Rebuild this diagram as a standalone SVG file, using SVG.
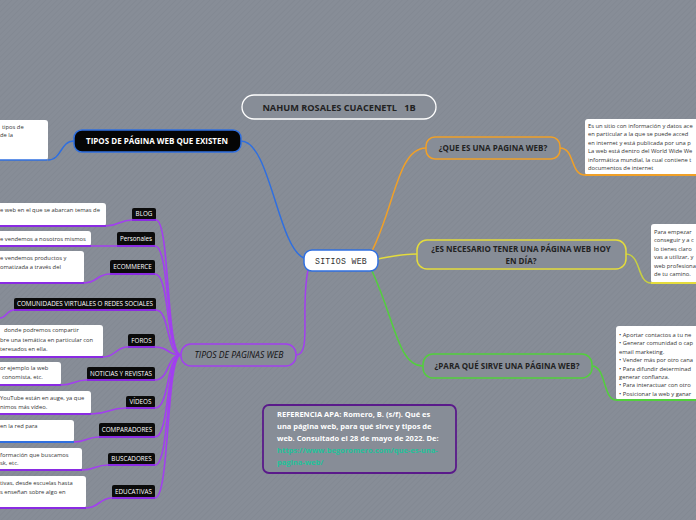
<svg xmlns="http://www.w3.org/2000/svg" width="696" height="520" viewBox="0 0 696 520">
<defs>
<pattern id="hatch" width="4" height="4" patternUnits="userSpaceOnUse" patternTransform="rotate(45)">
<rect width="4" height="4" fill="#878d97"/>
<line x1="0" y1="0" x2="0" y2="4" stroke="#7f858f" stroke-width="1"/>
</pattern>
<style>
.t{font-family:"Open Sans","Noto Sans",sans-serif}
.lbl{font-family:"Open Sans","Noto Sans",sans-serif;font-size:6.3px;fill:#fff}
.note{font-family:"Open Sans","Noto Sans",sans-serif;font-size:5.8px;fill:#333}
.blk{fill:#0b0b0b;rx:2}
.wb{fill:#fff}
.pu{stroke:#a23ff0;stroke-width:1.6;fill:none}
.puB{stroke:#8a2be2;stroke-width:2;fill:none}
.head{font-family:"Open Sans","Noto Sans",sans-serif;font-size:8px;font-weight:bold;fill:#222}
</style>
</defs>
<rect width="696" height="520" fill="url(#hatch)"/>

<g id="connectors" fill="none" stroke-linecap="round">
<path d="M241,141 C270,141 278,248 304,258" stroke="#2f6fe0" stroke-width="1.5"/>
<path d="M74,141 C60,141 62,160 48,160" stroke="#2f6fe0" stroke-width="1.5"/>
<path d="M308,270 C300,310 312,355 296,355" stroke="#a23ff0" stroke-width="1.5"/>
<path d="M372,251 C395,205 398,148 426,148" stroke="#f0a028" stroke-width="1.5"/>
<path d="M560,148 C575,148 570,175 585,175" stroke="#f0a028" stroke-width="1.5"/>
<path d="M378,259 C395,256 400,254 417,254" stroke="#e4dc3c" stroke-width="1.5"/>
<path d="M626,254 C641,254 637,283 651,283" stroke="#c8d040" stroke-width="1.5"/>
<path d="M372,271 C395,320 398,366 423,366" stroke="#52d03c" stroke-width="1.5"/>
<path d="M592,366 C606,366 603,400 616,400" stroke="#52d03c" stroke-width="1.5"/>
<g class="pu">
<path d="M181,355 C166,355 170,220 156,220"/>
<path d="M181,355 C166,355 170,246 155,246"/>
<path d="M181,355 C166,355 170,274 155,274"/>
<path d="M181,355 C166,355 170,310 156,310"/>
<path d="M181,355 C166,355 170,347 155,347"/>
<path d="M181,355 C166,355 170,380 155,380"/>
<path d="M181,355 C166,355 170,408 155,408"/>
<path d="M181,355 C166,355 170,437 155,437"/>
<path d="M181,355 C166,355 170,465 155,465"/>
<path d="M181,355 C166,355 170,498 155,498"/>
<path d="M132,220 C120,220 118,226 106,226"/>
<path d="M117,246 C104,246 104,246 91,246"/>
<path d="M110,274 C97,274 97,283 84,283"/>
<path d="M14,310 C7,310 6,318 0,318"/>
<path d="M128,347 C115,347 116,357 103,357"/>
<path d="M87,380 C74,380 74,385 61,385"/>
<path d="M126,408 C108,408 109,414 91,414"/>
<path d="M99,437 C87,437 86,442 74,442"/>
<path d="M108,465 C95,465 95,470 82,470"/>
<path d="M112,498 C99,498 99,508 86,508"/>
</g>
</g>

<g id="title">
<rect x="242" y="95" width="194" height="24" rx="12" fill="#878d97" stroke="#fff" stroke-width="1.3"/>
<text x="339" y="110.5" text-anchor="middle" class="t" font-size="9.2" font-weight="bold" fill="#222" xml:space="preserve">NAHUM ROSALES CUACENETL   1B</text>
</g>

<g id="center">
<rect x="304" y="250" width="74" height="21" rx="8" fill="#fff" stroke="#2f6fe0" stroke-width="1.5"/>
<text x="341" y="264" text-anchor="middle" font-family="Liberation Mono,DejaVu Sans Mono,monospace" font-size="8.2" letter-spacing="0.3" fill="#333">SITIOS WEB</text>
</g>

<g id="tipos-existen">
<rect x="74" y="130" width="167" height="22" rx="8" fill="#050505" stroke="#2f6fe0" stroke-width="1.5"/>
<text x="157" y="144" text-anchor="middle" class="t" font-size="8" font-weight="bold" fill="#fff">TIPOS DE PÁGINA WEB QUE EXISTEN</text>
</g>
<g id="tipos-existen-note">
<rect x="-5" y="120" width="53" height="40" rx="3" class="wb"/>
<line x1="-5" y1="160" x2="47" y2="160" stroke="#2f6fe0" stroke-width="1.5"/>
<text class="note" x="2" y="129">tipos de</text>
<text class="note" x="0" y="137">de la</text>
</g>

<g id="que-es">
<rect x="426" y="137" width="134" height="22" rx="9" fill="#878d97" stroke="#f0a028" stroke-width="1.5"/>
<text x="493" y="151" text-anchor="middle" class="head">¿QUE ES UNA PAGINA WEB?</text>
</g>
<g id="que-es-note">
<rect x="585" y="119" width="120" height="56" rx="3" class="wb"/>
<line x1="585" y1="175" x2="696" y2="175" stroke="#f0a028" stroke-width="1.8"/>
<text class="note"><tspan x="588" y="128">Es un sitio con información y datos ace</tspan><tspan x="588" y="136.4">en particular a la que se puede acced</tspan><tspan x="588" y="144.8">en internet y está publicada por una p</tspan><tspan x="588" y="153.2">La web está dentro del World Wide We</tspan><tspan x="588" y="161.6">informática mundial, la cual contiene t</tspan><tspan x="588" y="170">documentos de internet</tspan></text>
</g>

<g id="necesario">
<rect x="417" y="240" width="209" height="29" rx="10" fill="#878d97" stroke="#e4dc3c" stroke-width="1.5"/>
<text text-anchor="middle" class="head" font-size="7.5"><tspan x="521" y="252">¿ES NECESARIO TENER UNA PÁGINA WEB HOY</tspan><tspan x="521" y="263.5">EN DÍA?</tspan></text>
</g>
<g id="necesario-note">
<rect x="651" y="224" width="60" height="59" rx="3" class="wb"/>
<line x1="651" y1="283" x2="696" y2="283" stroke="#e4dc3c" stroke-width="1.8"/>
<text class="note"><tspan x="654" y="234">Para empezar</tspan><tspan x="654" y="242.4">conseguir y a c</tspan><tspan x="654" y="250.8">lo tienes claro</tspan><tspan x="654" y="259.2">vas a utilizar, y</tspan><tspan x="654" y="267.6">web profesiona</tspan><tspan x="654" y="276">de tu camino.</tspan></text>
</g>

<g id="para-que">
<rect x="423" y="354" width="169" height="24" rx="10" fill="#878d97" stroke="#52d03c" stroke-width="1.5"/>
<text x="507" y="369" text-anchor="middle" class="head">¿PARA QUÉ SIRVE UNA PÁGINA WEB?</text>
</g>
<g id="para-que-note">
<rect x="616" y="326" width="90" height="74" rx="3" class="wb"/>
<line x1="616" y1="400" x2="696" y2="400" stroke="#52d03c" stroke-width="1.8"/>
<text class="note"><tspan x="619" y="337">• Aportar contactos a tu ne</tspan><tspan x="619" y="345.4">• Generar comunidad o cap</tspan><tspan x="619" y="353.8">email marketing.</tspan><tspan x="619" y="362.2">• Vender más por otro cana</tspan><tspan x="619" y="370.6">• Para difundir determinad</tspan><tspan x="619" y="379">generar confianza.</tspan><tspan x="619" y="387.4">• Para interactuar con otro</tspan><tspan x="619" y="395.8">• Posicionar la web y ganar</tspan></text>
</g>

<g id="tipos-paginas">
<rect x="181" y="344" width="115" height="22" rx="10" fill="#878d97" stroke="#a23ff0" stroke-width="1.5"/>
<text x="239" y="358" text-anchor="middle" class="t" font-size="8.6" font-style="italic" fill="#111">TIPOS DE PAGINAS WEB</text>
</g>

<g id="blog">
<rect x="-5" y="203" width="111" height="23" rx="3" class="wb"/>
<line x1="-5" y1="226" x2="106" y2="226" class="puB"/>
<text class="note" x="0" y="212">e web en el que se abarcan temas de</text>
<rect x="132" y="208" width="24" height="12" class="blk"/>
<line x1="132" y1="220" x2="156" y2="220" class="puB"/>
<text class="lbl" x="144" y="216.3" text-anchor="middle">BLOG</text>
</g>

<g id="personales">
<rect x="-5" y="231" width="96" height="15" rx="3" class="wb"/>
<line x1="-5" y1="246" x2="91" y2="246" class="puB"/>
<text class="note" x="0" y="240.5">e vendemos a nosotros mismos</text>
<rect x="117" y="232" width="38" height="14" class="blk"/>
<line x1="117" y1="246" x2="155" y2="246" class="puB"/>
<text class="lbl" x="136" y="241.3" text-anchor="middle">Personales</text>
</g>

<g id="ecommerce">
<rect x="-5" y="251" width="89" height="32" rx="3" class="wb"/>
<line x1="-5" y1="283" x2="84" y2="283" class="puB"/>
<text class="note"><tspan x="0" y="260">e vendemos productos y</tspan><tspan x="0" y="268.5">omatizada a través del</tspan></text>
<rect x="110" y="260" width="45" height="14" class="blk"/>
<line x1="110" y1="274" x2="155" y2="274" class="puB"/>
<text class="lbl" x="132.5" y="269.3" text-anchor="middle">ECOMMERCE</text>
</g>

<g id="comunidades">
<rect x="14" y="298" width="142" height="12" class="blk"/>
<line x1="14" y1="310" x2="156" y2="310" class="puB"/>
<text class="lbl" x="85" y="306.3" text-anchor="middle">COMUNIDADES VIRTUALES O REDES SOCIALES</text>
</g>

<g id="foros">
<rect x="-5" y="325" width="108" height="32" rx="3" class="wb"/>
<line x1="-5" y1="357" x2="103" y2="357" class="puB"/>
<text class="note"><tspan x="4" y="332">donde podremos compartir</tspan><tspan x="0" y="341.5">bre una temática en particular con</tspan><tspan x="0" y="351">teresados en ella.</tspan></text>
<rect x="128" y="334" width="27" height="13" class="blk"/>
<line x1="128" y1="347" x2="155" y2="347" class="puB"/>
<text class="lbl" x="141.5" y="342.8" text-anchor="middle">FOROS</text>
</g>

<g id="noticias">
<rect x="-5" y="362" width="66" height="23" rx="3" class="wb"/>
<line x1="-5" y1="385" x2="61" y2="385" class="puB"/>
<text class="note"><tspan x="0" y="370">or ejemplo la web</tspan><tspan x="2" y="379">conomista, etc.</tspan></text>
<rect x="87" y="367" width="68" height="13" class="blk"/>
<line x1="87" y1="380" x2="155" y2="380" class="puB"/>
<text class="lbl" x="121" y="375.8" text-anchor="middle">NOTICIAS Y REVISTAS</text>
</g>

<g id="videos">
<rect x="-5" y="391" width="96" height="23" rx="3" class="wb"/>
<line x1="-5" y1="414" x2="91" y2="414" class="puB"/>
<text class="note"><tspan x="0" y="400">YouTube están en auge, ya que</tspan><tspan x="0" y="408.5">nimos más vídeo.</tspan></text>
<rect x="126" y="396" width="29" height="12" class="blk"/>
<line x1="126" y1="408" x2="155" y2="408" class="puB"/>
<text class="lbl" x="140.5" y="404.3" text-anchor="middle">VÍDEOS</text>
</g>

<g id="comparadores">
<rect x="-5" y="420" width="79" height="22" rx="3" class="wb"/>
<line x1="-5" y1="442" x2="74" y2="442" stroke="#2f6fe0" stroke-width="1.8"/>
<text class="note" x="0" y="428">en la red para</text>
<rect x="99" y="423" width="56" height="14" class="blk"/>
<line x1="99" y1="437" x2="155" y2="437" class="puB"/>
<text class="lbl" x="127" y="432.3" text-anchor="middle">COMPARADORES</text>
</g>

<g id="buscadores">
<rect x="-5" y="448" width="87" height="22" rx="3" class="wb"/>
<line x1="-5" y1="470" x2="82" y2="470" class="puB"/>
<text class="note"><tspan x="0" y="457">formación que buscamos</tspan><tspan x="0" y="465">sk, etc.</tspan></text>
<rect x="108" y="453" width="47" height="12" class="blk"/>
<line x1="108" y1="465" x2="155" y2="465" class="puB"/>
<text class="lbl" x="131.5" y="461.3" text-anchor="middle">BUSCADORES</text>
</g>

<g id="educativas">
<rect x="-5" y="476" width="91" height="32" rx="3" class="wb"/>
<line x1="-5" y1="508" x2="86" y2="508" class="puB"/>
<text class="note"><tspan x="0" y="485">tivas, desde escuelas hasta</tspan><tspan x="0" y="494">s enseñan sobre algo en</tspan></text>
<rect x="112" y="485" width="43" height="13" class="blk"/>
<line x1="112" y1="498" x2="155" y2="498" class="puB"/>
<text class="lbl" x="133.5" y="493.8" text-anchor="middle">EDUCATIVAS</text>
</g>

<g id="referencia">
<rect x="263" y="405" width="193" height="68" rx="6" fill="#878d97" stroke="#5a1a8a" stroke-width="1.8"/>
<text class="t" font-size="7.5" font-weight="bold" fill="#fff"><tspan x="277" y="417">REFERENCIA APA: Romero, B. (s/f). Qué es</tspan><tspan x="277" y="429">una página web, para qué sirve y tipos de</tspan><tspan x="277" y="441">web. Consultado el 28 de mayo de 2022. De:</tspan><tspan x="277" y="453" fill="#22c29a">https://www.begoromero.com/que-es-una-</tspan><tspan x="277" y="465" fill="#22c29a">pagina-web/</tspan></text>
</g>
</svg>
